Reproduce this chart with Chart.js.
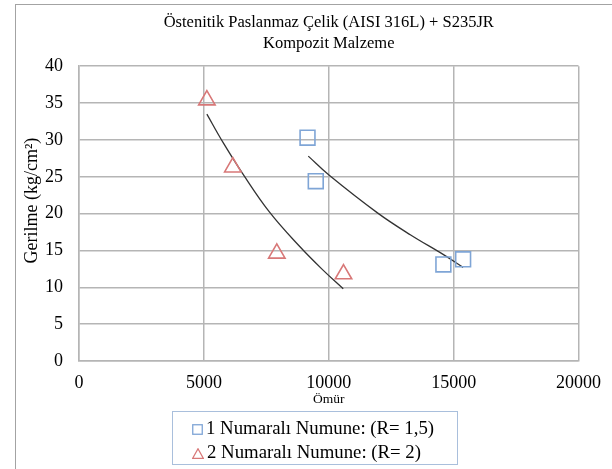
<!DOCTYPE html>
<html>
<head>
<meta charset="utf-8">
<script src="https://cdn.jsdelivr.net/npm/chart.js@4.4.1/dist/chart.umd.min.js"></script>
<style>
  html, body { margin: 0; padding: 0; background: #fff; }
  #wrap { position: relative; width: 612px; height: 469px; overflow: hidden; }
  #frame { position: absolute; left: 15px; top: 4px; width: 700px; height: 600px;
           border-left: 1px solid #a3a3a3; border-top: 1px solid #a3a3a3; }
  #grafico { position: absolute; left: 0; top: 0; }
  #leyenda { position: absolute; left: 172px; top: 411px; width: 286px; height: 54px;
             border: 1px solid #a9bfdc; font-family: 'Liberation Serif', serif; font-size: 18.8px;
             color: #000; box-sizing: border-box; padding-top: 4px; }
  #leyenda .fila { height: 24px; line-height: 24px; white-space: nowrap; padding-left: 19px; }
  #leyenda svg { vertical-align: -1px; margin-right: 3px; }
</style>
</head>
<body>
<div id="wrap">
  <div id="frame"></div>
  <canvas id="grafico" width="612" height="469"></canvas>
  <div id="leyenda"></div>
</div>
<script>
// datos
var serie1X = [9150, 9480, 14590, 15380];
var serie1Y = [30.3, 24.4, 13.1, 13.8];
var serie2X = [5120, 6160, 7920, 10590];
var serie2Y = [35.4, 26.3, 14.6, 11.8];

// lineas de tendencia
var tend1X = [9180, 10020, 11950, 13280, 14610, 15380];
var tend1Y = [27.8, 25.2, 20.1, 17.1, 14.4, 12.7];
var tend2X = [5120, 5760, 6560, 7630, 8820, 9750, 10580];
var tend2Y = [33.5, 29.7, 25.4, 20.2, 15.6, 12.4, 9.8];

var nombres = ['1 Numaralı Numune: (R= 1,5)', '2 Numaralı Numune: (R= 2)'];
var titulo = ['Östenitik Paslanmaz Çelik (AISI 316L) + S235JR', 'Kompozit Malzeme'];
var tituloY = 'Gerilme (kg/cm²)';
var ticksX = [0, 5000, 10000, 15000, 20000];
var ticksY = [0, 5, 10, 15, 20, 25, 30, 35, 40];

var azul = '#7fa5d6';
var rojo = '#d87878';
var fuente = "'Liberation Serif', 'Times New Roman', serif";
var gris = '#b5b5b5';

function puntos(xs, ys){
    var arr = new Array();
    for (var i = 0; i < xs.length; i++){
        arr.push({x: xs[i], y: ys[i]});
    }
    return arr;
}

// titulo del eje Y (un poco por encima del centro, como en Excel)
var tituloEjeY = {
    id: 'tituloEjeY',
    afterDraw: function(chart){
        var c = chart.ctx, area = chart.chartArea;
        c.save();
        c.translate(32, (area.top + area.bottom) / 2 - 13);
        c.rotate(-Math.PI / 2);
        c.font = '18px ' + fuente;
        c.fillStyle = '#000';
        c.textAlign = 'center';
        c.textBaseline = 'middle';
        c.fillText(tituloY, 0, 0);
        c.restore();
    }
};

var ctx = document.getElementById('grafico');
var grafico = new Chart(ctx, {
    type: 'scatter',
    data: {
        datasets: [{
            label: nombres[0],
            data: puntos(serie1X, serie1Y),
            pointStyle: 'rect',
            pointRadius: 10.5,
            pointHoverRadius: 10.5,
            borderColor: azul,
            backgroundColor: 'rgba(0,0,0,0)',
            borderWidth: 1.6
        }, {
            label: nombres[1],
            data: puntos(serie2X, serie2Y),
            pointStyle: 'triangle',
            pointRadius: 9.5,
            pointHoverRadius: 9.5,
            borderColor: rojo,
            backgroundColor: 'rgba(0,0,0,0)',
            borderWidth: 1.6
        }, {
            label: 'tendencia 1',
            data: puntos(tend1X, tend1Y),
            showLine: true,
            pointRadius: 0,
            borderColor: '#333',
            borderWidth: 1.3,
            tension: 0.4
        }, {
            label: 'tendencia 2',
            data: puntos(tend2X, tend2Y),
            showLine: true,
            pointRadius: 0,
            borderColor: '#333',
            borderWidth: 1.3,
            tension: 0.4
        }]
    },
    plugins: [tituloEjeY],
    options: {
        responsive: false,
        animation: false,
        devicePixelRatio: 1,
        layout: { padding: { left: 18, right: 8, top: 5, bottom: 61 } },
        plugins: {
            legend: { display: false },
            tooltip: { enabled: false },
            title: {
                display: true,
                text: titulo,
                fullSize: false,
                color: '#000',
                font: { family: fuente, size: 16.5, weight: 'normal', lineHeight: 1.28 },
                padding: { top: 7, bottom: 12 }
            }
        },
        scales: {
            x: {
                type: 'linear',
                min: 0, max: 20000,
                afterBuildTicks: function(eje){ eje.ticks = ticksX.map(function(v){ return {value: v}; }); },
                afterFit: function(eje){ eje.height = 47; },
                grid: { color: gris, lineWidth: 1.5, drawTicks: false },
                border: { color: gris, width: 1.5 },
                ticks: { color: '#000', padding: 11, font: { family: fuente, size: 18 }, maxRotation: 0,
                         callback: function(v){ return String(v); } },
                title: { display: true, text: 'Ömür', color: '#000', padding: { top: 0, bottom: 0 },
                         font: { family: fuente, size: 13.5 } }
            },
            y: {
                type: 'linear',
                min: 0, max: 40,
                afterBuildTicks: function(eje){ eje.ticks = ticksY.map(function(v){ return {value: v}; }); },
                afterFit: function(eje){ eje.width = 61; },
                grid: { color: gris, lineWidth: 1.5, drawTicks: false },
                border: { color: gris, width: 1.5 },
                ticks: { color: '#000', padding: 16, font: { family: fuente, size: 18 } },
                title: { display: false }
            }
        }
    }
});

// leyenda en html
var marcas = [
    '<svg width="11" height="11"><rect x="0.75" y="0.75" width="9.5" height="9.5" fill="none" stroke="' + azul + '" stroke-width="1.3"/></svg>',
    '<svg width="12" height="11"><polygon points="6,0.8 11.3,10.3 0.7,10.3" fill="none" stroke="' + rojo + '" stroke-width="1.3"/></svg>'
];
var html = '';
for (var i = 0; i < nombres.length; i++){
    html += '<div class="fila">' + marcas[i] + nombres[i] + '</div>';
}
document.getElementById('leyenda').innerHTML = html;
</script>
</body>
</html>
